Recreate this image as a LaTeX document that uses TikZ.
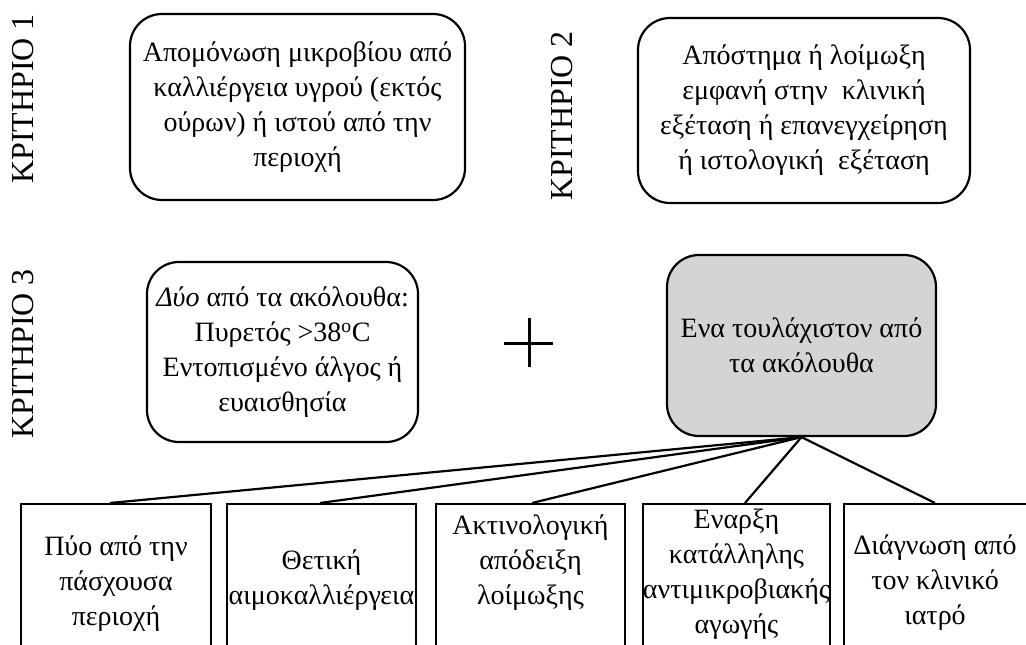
\documentclass[tikz,border=0pt]{standalone}
\usepackage{fontspec}
\setmainfont{Liberation Serif}
\newcommand{\boxfont}{\fontsize{28}{35}\selectfont}
\newcommand{\labfont}{\fontsize{32}{36}\selectfont}
\definecolor{boxgray}{RGB}{211,212,214}
\begin{document}
\begin{tikzpicture}[x=1pt,y=-1pt,
  rbox/.style={draw, line width=2.2pt, rounded corners=32pt, align=center, inner sep=0pt, font=\boxfont},
  sbox/.style={draw, line width=2.2pt, inner sep=0pt, minimum height=200pt, anchor=north},
  btext/.style={align=center, inner sep=0pt, font=\boxfont},
  crit/.style={rotate=90, inner sep=0pt, font=\labfont},
  conn/.style={line width=2.2pt}]
\clip (0,0) rectangle (1026,645);
\fill[white] (0,0) rectangle (1026,645);

\node[crit] (c1) at (23,99) {ΚΡΙΤΗΡΙΟ 1};
\node[crit] (c2) at (562,116) {ΚΡΙΤΗΡΙΟ 2};
\node[crit] (c3) at (23,354) {ΚΡΙΤΗΡΙΟ 3};

\node[rbox, minimum width=335pt, minimum height=186pt] (k1) at (297.5,107)
  {Απομόνωση μικροβίου από\\καλλιέργεια υγρού (εκτός\\ούρων) ή ιστού από την\\περιοχή};
\node[rbox, minimum width=332pt, minimum height=185pt] (k2) at (804,110.5)
  {Απόστημα ή λοίμωξη\\εμφανή στην\ \ κλινική\\εξέταση ή επανεγχείρηση\\ή ιστολογική\ \ εξέταση};
\node[rbox, minimum width=271pt, minimum height=180pt] (k3) at (282.5,352)
  {\textit{Δύο} από τα ακόλουθα:\\Πυρετός >38\textsuperscript{o}C\\Εντοπισμένο άλγος ή\\ευαισθησία};
\node[rbox, fill=boxgray, minimum width=269pt, minimum height=181pt] (g) at (801.5,345.5)
  {Ενα τουλάχιστον από\\τα ακόλουθα};

\draw[line width=3pt] (504,343) -- (553,343);
\draw[line width=3pt] (529,318) -- (529,367);

\node[sbox, minimum width=190pt] (b1) at (116,503) {};
\node[sbox, minimum width=189pt] (b2) at (321.5,503) {};
\node[sbox, minimum width=189pt] (b3) at (530.5,503) {};
\node[sbox, minimum width=187pt] (b4) at (736.5,503) {};
\node[sbox, minimum width=192pt] (b5) at (940,503) {};

\node[btext] (t1) at (116,584) {Πύο από την\\πάσχουσα\\περιοχή};
\node[btext] (t2) at (321.5,580) {Θετική\\αιμοκαλλιέργεια};
\node[btext] (t3) at (530.5,563) {Ακτινολογική\\απόδειξη\\λοίμωξης};
\node[btext] (t4) at (736.5,574) {Εναρξη\\κατάλληλης\\αντιμικροβιακής\\αγωγής};
\node[btext] (t5) at (935,583) {Διάγνωση από\\τον κλινικό\\ιατρό};

\draw[conn] (g.south) -- ([xshift=-6pt]b1.north);
\draw[conn] (g.south) -- ([xshift=-1.5pt]b2.north);
\draw[conn] (g.south) -- ([xshift=1.5pt]b3.north);
\draw[conn] (g.south) -- ([xshift=8.5pt]b4.north);
\draw[conn] (g.south) -- ([xshift=-5pt]b5.north);
\end{tikzpicture}
\end{document}
